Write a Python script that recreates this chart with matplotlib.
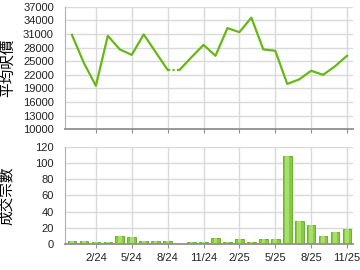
import numpy as np
import matplotlib
matplotlib.use("Agg")
import matplotlib.pyplot as plt

plt.rcParams['font.family'] = ['Liberation Sans', 'Noto Sans CJK TC', 'DejaVu Sans']

# months Dec 2023 .. Nov 2025 (index 0 = 12/23)
months = ["12/23", "1/24", "2/24", "3/24", "4/24", "5/24", "6/24", "7/24", "8/24",
          "9/24", "10/24", "11/24", "12/24", "1/25", "2/25", "3/25", "4/25", "5/25",
          "6/25", "7/25", "8/25", "9/25", "10/25", "11/25"]

# average price per sq ft (Sep 24 has no deals: value carried, drawn dotted)
avg_price = [30800, 24600, 19600, 30600, 27600, 26400, 30900, 27000, 23100,
             23100, 25900, 28600, 26200, 32300, 31400, 34600, 27600, 27300,
             20000, 21000, 22900, 22000, 23900, 26200]
no_deal_month = "9/24"

# number of transactions
volume = [4, 4, 2, 2, 10, 9, 4, 4, 4,
          0, 3, 3, 7, 3, 6, 2, 6, 6,
          109, 28, 24, 10, 15, 18]

tick_labels = ["2/24", "5/24", "8/24", "11/24", "2/25", "5/25", "8/25", "11/25"]
price_ticks = list(range(10000, 37001, 3000))
volume_ticks = list(range(0, 121, 20))

line_color = '#66b814'
grid_color = '#d9d9d9'

x = np.arange(len(months))
tick_pos = [months.index(t) for t in tick_labels]
gap = months.index(no_deal_month)

fig = plt.figure(figsize=(3.6, 2.7), dpi=100)
ax1 = fig.add_axes([0.1806, 0.521, 0.8, 0.454])
ax2 = fig.add_axes([0.1806, 0.0963, 0.8, 0.360])

for ax in (ax1, ax2):
    ax.set_xlim(-0.58, 23.5)
    ax.set_xticks(tick_pos)
    ax.grid(True, color=grid_color, linewidth=1.0)
    ax.set_axisbelow(True)
    for s in ('top', 'right'):
        ax.spines[s].set_visible(False)
    ax.spines['left'].set_color('#b0b0b0')
    ax.spines['bottom'].set_color('#909090')
    ax.spines['bottom'].set_linewidth(1.3)
    ax.tick_params(axis='y', length=0, labelsize=8, pad=8, colors='#222222')
    ax.tick_params(axis='x', length=3, color='#909090', labelsize=8, colors='#222222')

# price line
price = np.array(avg_price, dtype=float)
solid_a = price.copy()
solid_a[gap:] = np.nan
solid_b = price.copy()
solid_b[:gap] = np.nan
ax1.plot(x, solid_a, color=line_color, lw=1.6)
ax1.plot(x, solid_b, color=line_color, lw=1.6)
ax1.plot(x[gap - 1:gap + 1], price[gap - 1:gap + 1], color=line_color, lw=1.6,
         linestyle=(0, (1, 1)))
ax1.set_ylim(10000, 37000)
ax1.set_yticks(price_ticks)
ax1.set_xticklabels([])
ax1.set_ylabel("平均呎價", fontsize=10.5)
ax1.yaxis.set_label_coords(-0.175, 0.5)

# volume bars
ax2.bar(x, volume, width=0.72, color='#86ca40', edgecolor='#5ea823', linewidth=0.6)
ax2.bar(x, volume, width=0.3, color='#a8de6c', linewidth=0)
ax2.set_ylim(0, 120)
ax2.set_yticks(volume_ticks)
ax2.set_xticklabels(tick_labels)
ax2.set_ylabel("成交宗數", fontsize=10.5)
ax2.yaxis.set_label_coords(-0.175, 0.5)

fig.savefig("out.png", dpi=100)
